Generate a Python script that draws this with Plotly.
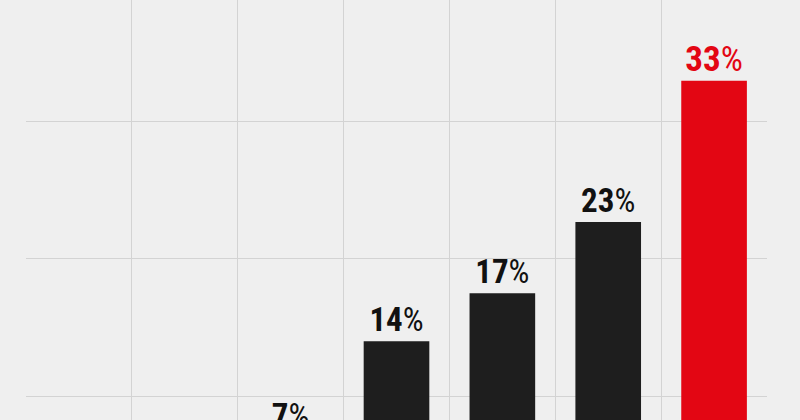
import plotly.graph_objects as go

# seven columns, the first two sit below the visible crop
positions = [1, 2, 3, 4, 5, 6, 7]
values = [None, None, 7, 14, 17.5, 22.7, 33]
labels = ["", "", "7%", "14%", "17%", "23%", "33%"]
bar_colors = ["#1e1e1e"] * 6 + ["#e30613"]
text_colors = ["#111111"] * 6 + ["#e30613"]
text_sizes = [33] * 6 + [35]

LABEL_OFFSET = 1.35  # label sits this many points above the bar end
FONT = "Roboto Condensed, DejaVu Sans Condensed, sans-serif"

fig = go.Figure()

fig.add_trace(
    go.Bar(
        x=positions,
        y=values,
        width=0.62,
        marker=dict(color=bar_colors, line=dict(width=0)),
        hoverinfo="skip",
    )
)

# percent sign is set lighter than the digits
label_html = [l.replace("%", "<span style='font-weight:400'>%</span>") for l in labels]
# labels as a text trace so the one whose bar is below the crop still shows
label_y = [v + LABEL_OFFSET if v is not None else None for v in values]
fig.add_trace(
    go.Scatter(
        x=positions,
        y=label_y,
        mode="text",
        text=label_html,
        textposition="middle center",
        textfont=dict(family=FONT, size=text_sizes, color=text_colors, weight=700),
        cliponaxis=False,
        hoverinfo="skip",
    )
)

fig.update_layout(
    width=800,
    height=420,
    margin=dict(l=26, r=33, t=0, b=0),
    paper_bgcolor="#efefef",
    plot_bgcolor="#efefef",
    showlegend=False,
)

fig.update_xaxes(
    range=[0.5, 7.5],
    tick0=0.5,
    dtick=1,
    showgrid=True,
    gridcolor="#d3d3d3",
    gridwidth=1,
    showticklabels=False,
    zeroline=False,
    showline=False,
    ticks="",
)
fig.update_yaxes(
    range=[8.25, 38.9],
    tick0=0,
    dtick=10,
    showgrid=True,
    gridcolor="#d3d3d3",
    gridwidth=1,
    showticklabels=False,
    zeroline=False,
    showline=False,
    ticks="",
)

fig.write_html(
    "out.html",
    config={"displayModeBar": False},
    post_script="document.body.style.margin='0';",
)
